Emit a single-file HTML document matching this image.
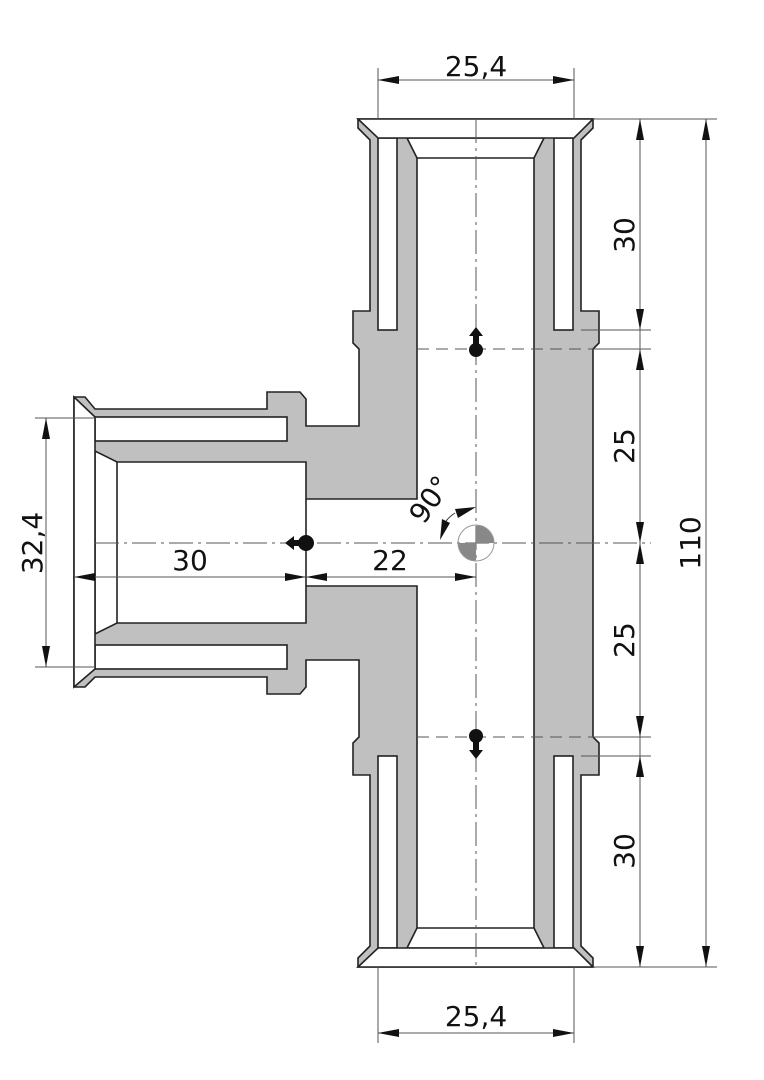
<!DOCTYPE html>
<html><head><meta charset="utf-8"><style>
html,body{margin:0;padding:0;background:#fff;}
svg{display:block;}
text{font-family:"DejaVu Sans","Liberation Sans",sans-serif;font-size:28px;fill:#111;}
</style></head><body>
<svg width="764" height="1080" viewBox="0 0 764 1080" xmlns="http://www.w3.org/2000/svg">
<defs>
<g id="half">
  <rect x="378" y="138" width="19" height="192" fill="#fff" stroke="#222" stroke-width="1.6"/>
  <rect x="554" y="138" width="19" height="192" fill="#fff" stroke="#222" stroke-width="1.6"/>
  <polygon points="358,119 378,138 574,138 593,119" fill="#fff" stroke="#222" stroke-width="1.6"/>
  <line x1="417" y1="158" x2="534" y2="158" stroke="#222" stroke-width="1.6"/>
</g>
</defs>
<polygon fill="#c0c0c0" stroke="#222" stroke-width="1.6" points="
358,119 593,119 593,128 581,140 581,311 599,311 599,343 593,349 593,737 599,743 599,775 581,775 581,946 593,958 593,967
358,967 358,958 370,946 370,775 353,775 353,743 359,737 359,660 306,660 306,687 300,694 267,694 267,677 95,677 85,687 74,687
74,397 85,397 95,409 267,409 267,392 300,392 306,399 306,426 359,426 359,349 353,343 353,311 370,311 370,140 358,128"/>
<polygon fill="#fff" stroke="#222" stroke-width="1.6" points="
407,138 544,138 534,158 534,928 544,948 407,948 417,928 417,586 306,586 306,623 117,623 95,634 95,451 117,462 306,462 306,499 417,499 417,158"/>
<line x1="306" y1="499" x2="306" y2="586" stroke="#222" stroke-width="1.6"/>
<line x1="117" y1="462" x2="117" y2="623" stroke="#222" stroke-width="1.6"/>
<use href="#half"/>
<use href="#half" transform="translate(0,1086) scale(1,-1)"/>
<rect x="95" y="417" width="192" height="24" fill="#fff" stroke="#222" stroke-width="1.6"/>
<rect x="95" y="645" width="192" height="24" fill="#fff" stroke="#222" stroke-width="1.6"/>
<polygon points="74,397 95,417 95,669 74,687" fill="#fff" stroke="#222" stroke-width="1.6"/>

<g stroke="#555" stroke-width="1" fill="none">
  <line x1="476" y1="119" x2="476" y2="967" stroke-dasharray="24,5,3,5"/>
  <line x1="95" y1="543" x2="651" y2="543" stroke-dasharray="24,5,3,5"/>
  <line x1="417" y1="349" x2="651" y2="349" stroke-dasharray="12,7"/>
  <line x1="417" y1="737" x2="651" y2="737" stroke-dasharray="12,7"/>
</g>
<g stroke="#555" stroke-width="1">
  <line x1="593" y1="119" x2="717" y2="119"/>
  <line x1="593" y1="967" x2="717" y2="967"/>
  <line x1="581" y1="330" x2="651" y2="330"/>
  <line x1="581" y1="756" x2="651" y2="756"/>
  <line x1="593" y1="349" x2="651" y2="349"/>
  <line x1="593" y1="737" x2="651" y2="737"/>
  <line x1="378" y1="68" x2="378" y2="119"/>
  <line x1="574" y1="68" x2="574" y2="119"/>
  <line x1="378" y1="967" x2="378" y2="1043"/>
  <line x1="574" y1="967" x2="574" y2="1043"/>
  <line x1="35" y1="418" x2="95" y2="418"/>
  <line x1="35" y1="667" x2="95" y2="667"/>
  <line x1="640" y1="119" x2="640" y2="967"/>
  <line x1="706" y1="119" x2="706" y2="967"/>
  <line x1="378" y1="80" x2="574" y2="80"/>
  <line x1="378" y1="1033" x2="574" y2="1033"/>
  <line x1="46" y1="418" x2="46" y2="667"/>
  <line x1="74" y1="577" x2="476" y2="577"/>
</g>
<g fill="#111">
  <polygon points="640,119 636,140 644,140"/>
  <polygon points="640,330 636,309 644,309"/>
  <polygon points="640,349 636,370 644,370"/>
  <polygon points="640,543 636,522 644,522"/>
  <polygon points="640,543 636,564 644,564"/>
  <polygon points="640,737 636,716 644,716"/>
  <polygon points="640,756 636,777 644,777"/>
  <polygon points="640,967 636,946 644,946"/>
  <polygon points="706,119 702,140 710,140"/>
  <polygon points="706,967 702,946 710,946"/>
  <polygon points="378,80 399,76 399,84"/>
  <polygon points="574,80 553,76 553,84"/>
  <polygon points="378,1033 399,1029 399,1037"/>
  <polygon points="574,1033 553,1029 553,1037"/>
  <polygon points="46,418 42,439 50,439"/>
  <polygon points="46,667 42,646 50,646"/>
  <polygon points="74,577 95,573 95,581"/>
  <polygon points="306,577 285,573 285,581"/>
  <polygon points="306,577 327,573 327,581"/>
  <polygon points="476,577 455,573 455,581"/>
  <polygon points="476,507 455,509 458,518"/>
  <polygon points="440,540 442,519 450,523"/>
</g>
<path d="M455,513 A37,37 0 0 0 446,521" stroke="#333" stroke-width="1" fill="none"/>
<path d="M476,543 L476,525 A18,18 0 0 1 494,543 Z" fill="#888"/>
<path d="M476,543 L476,561 A18,18 0 0 1 458,543 Z" fill="#888"/>
<circle cx="476" cy="543" r="18" fill="none" stroke="#999" stroke-width="1"/>
<g fill="#111">
  <circle cx="476" cy="350" r="7"/>
  <rect x="473" y="334" width="6" height="12"/>
  <polygon points="476,327 469,336 483,336"/>
  <circle cx="476" cy="736" r="7"/>
  <rect x="473" y="740" width="6" height="12"/>
  <polygon points="476,759 469,750 483,750"/>
  <circle cx="306" cy="543" r="8"/>
  <rect x="290" y="540" width="12" height="6"/>
  <polygon points="285,543 294,536 294,550"/>
</g>
<text x="476" y="76" text-anchor="middle">25,4</text>
<text x="476" y="1026" text-anchor="middle">25,4</text>
<text x="190" y="570" text-anchor="middle">30</text>
<text x="390" y="570" text-anchor="middle">22</text>
<text transform="translate(42,543) rotate(-90)" text-anchor="middle">32,4</text>
<text transform="translate(634,235) rotate(-90)" text-anchor="middle">30</text>
<text transform="translate(634,446) rotate(-90)" text-anchor="middle">25</text>
<text transform="translate(634,640) rotate(-90)" text-anchor="middle">25</text>
<text transform="translate(634,851) rotate(-90)" text-anchor="middle">30</text>
<text transform="translate(700,543) rotate(-90)" text-anchor="middle">110</text>
<text transform="translate(438,505) rotate(-55)" text-anchor="middle">90°</text>
</svg>
</body></html>
